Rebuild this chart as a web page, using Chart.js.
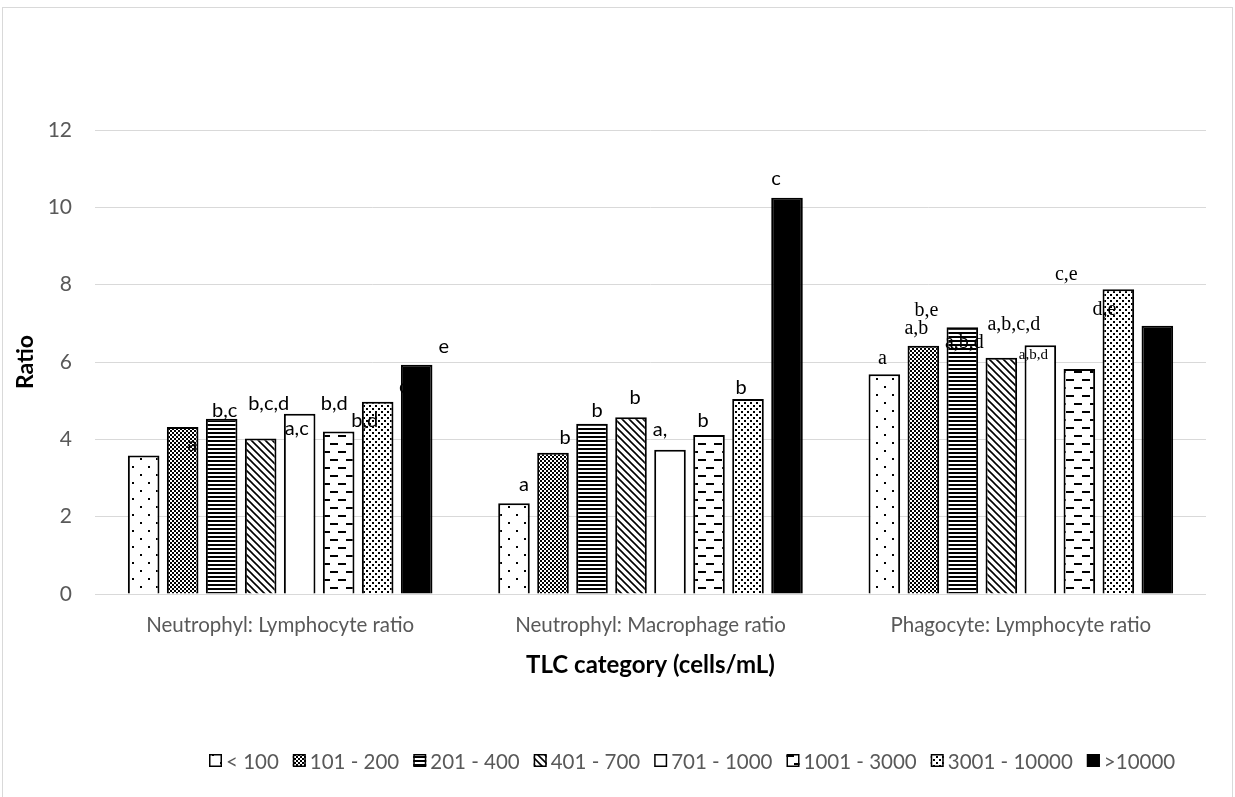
<!DOCTYPE html>
<html>
<head>
<meta charset="utf-8">
<title>TLC category ratios</title>
<script src="https://cdn.jsdelivr.net/npm/chart.js@4.4.1/dist/chart.umd.min.js"></script>
<style>
  html, body { margin: 0; padding: 0; background: #fff; }
  #wrap { width: 1235px; height: 797px; position: relative; }
</style>
</head>
<body>
<div id="wrap"><canvas id="chart" width="1235" height="797"></canvas></div>
<script>
// ---- data ----
const categories = ['Neutrophyl: Lymphocyte ratio', 'Neutrophyl: Macrophage ratio', 'Phagocyte: Lymphocyte ratio'];
const tlcLabels = ['< 100', '101 - 200', '201 - 400', '401 - 700', '701 - 1000', '1001 - 3000', '3001 - 10000', '>10000'];

const tlcUnder100   = [3.58, 2.35, 5.68];
const tlc101to200   = [4.32, 3.65, 6.42];
const tlc201to400   = [4.53, 4.40, 6.90];
const tlc401to700   = [4.02, 4.57, 6.11];
const tlc701to1000  = [4.66, 3.73, 6.43];
const tlc1001to3000 = [4.20, 4.11, 5.82];
const tlc3001to10000 = [4.97, 5.04, 7.88];
const tlcOver10000  = [5.93, 10.25, 6.94];

const yTicks = [0, 2, 4, 6, 8, 10, 12];

// significance letters per series, one list per ratio group
const lettersUnder100    = [[], ['a'], ['a']];
const letters101to200    = [['a'], ['b'], ['a,b', 'b,e']];
const letters201to400    = [['b,c'], ['b'], ['a,b,d']];
const letters401to700    = [['b,c,d'], ['b'], ['a,b,c,d']];
const letters701to1000   = [['a,c'], ['a,'], ['a,b,d']];
const letters1001to3000  = [['b,d'], ['b'], ['c,e']];
const letters3001to10000 = [['b,d'], ['b'], ['d,e']];
const lettersOver10000   = [['e', 'c'], ['c'], []];

// ---- label placement (offset from bar top centre, text baseline) ----
const letterPlacement = [
  [[], [[10, -12]], [[-2, -10]]],
  [[[9.5, 24]], [[12, -9]], [[-7, -12], [3, -30]]],
  [[[3, -2]], [[5, -7]], [[2, 21]]],
  [[[8, -29]], [[4, -13]], [[12.5, -28]]],
  [[[-3, 21]], [[-10, -14]], [[-7, 14, 'small']]],
  [[[-4.5, -22]], [[-6, -8]], [[-13, -89]]],
  [[[-13, 25]], [[-7, -5]], [[-14, 26]]],
  [[[27, -12], [-13, 28, 'under']], [[-11, -13]], []]
];

const GREY = '#595959';
const SANS = 'Lato, "Open Sans", sans-serif';
const SERIF = '"Liberation Serif", "DejaVu Serif", serif';

// ---- fill patterns ----
function tile(w, h, paint) {
  const c = document.createElement('canvas');
  c.width = w; c.height = h;
  const g = c.getContext('2d');
  g.fillStyle = '#fff';
  g.fillRect(0, 0, w, h);
  g.fillStyle = '#000';
  g.strokeStyle = '#000';
  paint(g);
  return g.createPattern(c, 'repeat');
}
const patSparseDots = tile(16, 16, g => { g.fillRect(4, 2, 2, 2); g.fillRect(12, 10, 2, 2); });
const patChecker = tile(4, 4, g => { g.fillRect(0, 0, 2, 2); g.fillRect(2, 2, 2, 2); g.fillRect(1, 1, 1, 1); });
const patHLines = tile(4, 4, g => { g.fillRect(0, 0, 4, 2); });
const patDiag = tile(7, 7, g => {
  g.lineWidth = 1.6;
  g.beginPath();
  g.moveTo(-1, -1); g.lineTo(8, 8);
  g.moveTo(-8, -1); g.lineTo(1, 8);
  g.moveTo(6, -1); g.lineTo(15, 8);
  g.stroke();
});
const patDashes = tile(16, 16, g => {
  g.fillRect(2, 3, 8, 2);
  g.fillRect(10, 11, 6, 2); g.fillRect(0, 11, 2, 2);
});
const patDenseDots = tile(6, 6, g => { g.fillRect(0, 0, 2, 2); g.fillRect(3, 3, 2, 2); });

const seriesValues = [tlcUnder100, tlc101to200, tlc201to400, tlc401to700, tlc701to1000, tlc1001to3000, tlc3001to10000, tlcOver10000];
const seriesFills = [patSparseDots, patChecker, patHLines, patDiag, '#ffffff', patDashes, patDenseDots, '#000000'];
const seriesLetters = [lettersUnder100, letters101to200, letters201to400, letters401to700, letters701to1000, letters1001to3000, letters3001to10000, lettersOver10000];

const datasets = seriesValues.map((vals, i) => ({
  label: tlcLabels[i],
  data: vals,
  backgroundColor: seriesFills[i],
  borderColor: '#000',
  borderWidth: 2,
  borderSkipped: 'bottom',
  categoryPercentage: 0.8425,
  barPercentage: 0.81
}));

// ---- plugins ----
function drawLetters(chart, underOnly) {
  const ctx = chart.ctx;
  ctx.save();
  ctx.textBaseline = 'alphabetic';
  ctx.textAlign = 'center';
  seriesLetters.forEach((groups, si) => {
    const meta = chart.getDatasetMeta(si);
    groups.forEach((texts, gi) => {
      const bar = meta.data[gi];
      texts.forEach((txt, k) => {
        const p = letterPlacement[si][gi][k];
        const flag = p[2];
        if ((flag === 'under') !== underOnly) return;
        if (gi === 2) {
          ctx.font = (flag === 'small' ? '15px ' : '20px ') + SERIF;
        } else {
          ctx.font = '20px ' + SANS;
        }
        ctx.fillStyle = '#000';
        ctx.fillText(txt, bar.x + p[0], bar.y + p[1]);
      });
    });
  });
  ctx.restore();
}

const letterPlugin = {
  id: 'letters',
  beforeDatasetsDraw(chart) { drawLetters(chart, true); },
  afterDatasetsDraw(chart) { drawLetters(chart, false); }
};

const framePlugin = {
  id: 'frame',
  beforeDraw(chart) {
    const ctx = chart.ctx;
    ctx.save();
    ctx.fillStyle = '#fff';
    ctx.fillRect(0, 0, chart.width, chart.height);
    ctx.strokeStyle = '#d9d9d9';
    ctx.lineWidth = 1;
    ctx.strokeRect(2.5, 7.5, 1230, 800);
    ctx.restore();
  }
};

// compact legend row: small swatch, tight gap, series name
const swatchLegend = {
  id: 'swatchLegend',
  afterDraw(chart) {
    const ctx = chart.ctx;
    const box = 13, gapText = 4, gapItem = 14, cy = 762, centreX = 692;
    ctx.save();
    ctx.font = '20.5px ' + SANS;
    ctx.textBaseline = 'middle';
    ctx.textAlign = 'left';
    const items = chart.data.datasets.map(ds => ({ ds, w: ctx.measureText(ds.label).width }));
    const total = items.reduce((s, it) => s + box + gapText + it.w, 0) + gapItem * (items.length - 1);
    let x = Math.round(centreX - total / 2);
    items.forEach(it => {
      ctx.fillStyle = it.ds.backgroundColor;
      ctx.fillRect(x, cy - 8, box, box);
      ctx.strokeStyle = '#000';
      ctx.lineWidth = 1.5;
      ctx.strokeRect(x + 0.75, cy - 8 + 0.75, box - 1.5, box - 1.5);
      ctx.fillStyle = GREY;
      ctx.fillText(it.ds.label, x + box + gapText, cy);
      x += box + gapText + it.w + gapItem;
    });
    ctx.restore();
  }
};

new Chart(document.getElementById('chart'), {
  type: 'bar',
  data: { labels: categories, datasets },
  plugins: [framePlugin, letterPlugin, swatchLegend],
  options: {
    responsive: false,
    animation: false,
    layout: { padding: { left: 0, right: 29, top: 130, bottom: 55 } },
    plugins: {
      tooltip: { enabled: false },
      legend: { display: false }
    },
    scales: {
      x: {
        grid: { display: false, drawTicks: false },
        border: { display: false },
        ticks: { color: GREY, font: { family: SANS, size: 20.5 }, padding: 19 },
        title: {
          display: true,
          text: 'TLC category (cells/mL)',
          color: '#000',
          font: { family: SANS, size: 24, weight: 'bold' },
          padding: { top: 0, bottom: 62 }
        },
        afterFit(scale) { scale.height = 148; }
      },
      y: {
        min: 0,
        max: 12,
        afterBuildTicks(scale) { scale.ticks = yTicks.map(v => ({ value: v })); },
        grid: { color: '#d9d9d9', lineWidth: 1, drawTicks: false },
        border: { display: false },
        ticks: { color: GREY, font: { family: SANS, size: 21 }, padding: 23 },
        title: {
          display: true,
          text: 'Ratio',
          color: '#000',
          font: { family: SANS, size: 23, weight: 'bold' },
          padding: { top: 12, bottom: 0 }
        },
        afterFit(scale) { scale.width = 95; }
      }
    }
  }
});
</script>
</body>
</html>
